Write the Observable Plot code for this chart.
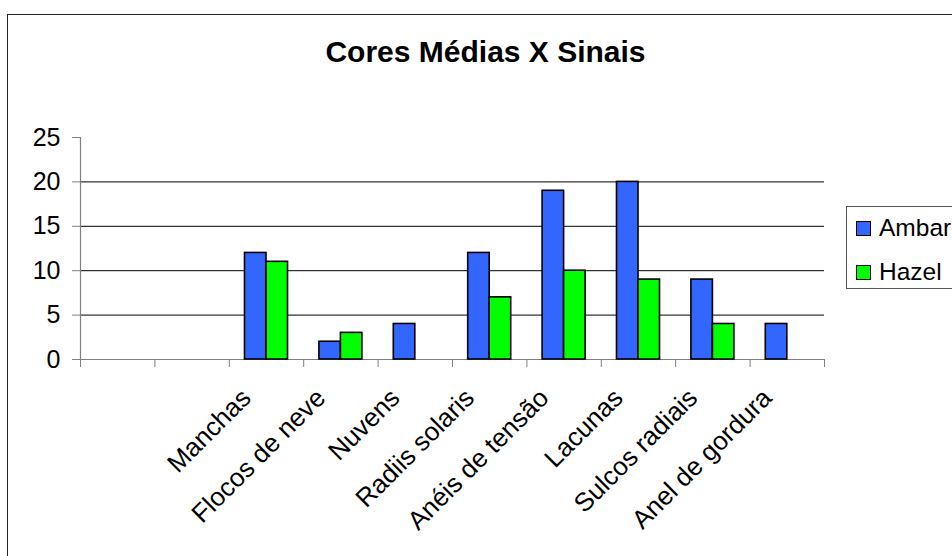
<!DOCTYPE html>
<html>
<head>
<meta charset="utf-8">
<script src="https://cdn.jsdelivr.net/npm/d3@7"></script>
<script src="https://cdn.jsdelivr.net/npm/@observablehq/plot@0.6"></script>
<style>
  body { margin: 0; background: #fff; }
  #chart { position: relative; width: 952px; height: 556px; overflow: hidden;
           font-family: "Liberation Sans", Arial, sans-serif; color: #000; }
  #frame { position: absolute; left: 7px; top: 14px; width: 1000px; height: 600px;
           border: 1.5px solid #222; box-sizing: border-box; pointer-events: none; }
  #title { position: absolute; left: 0; width: 971px; top: 37px; text-align: center;
           font-weight: bold; font-size: 30px; line-height: 30px; white-space: nowrap; }
  #plot { position: absolute; left: 0; top: 0; }
  #legend { position: absolute; left: 846px; top: 206px; width: 130px; height: 83px;
            border: 1px solid #555; box-sizing: border-box; }
  .item { position: absolute; left: 0; }
  .swatch { position: absolute; left: 9px; width: 15px; height: 15px;
            border: 1.5px solid #000; box-sizing: border-box; }
  .label { position: absolute; left: 32px; font-size: 24.5px; line-height: 26px; white-space: nowrap; }
</style>
</head>
<body>
<div id="chart">
  <div id="plot"></div>
  <div id="frame"></div>
  <div id="title">Cores Médias X Sinais</div>
  <div id="legend"></div>
</div>
<script>
// Category slots along the x axis (the first two slots hold no data)
const categories = ["", "", "Manchas", "Flocos de neve", "Nuvens", "Radiis solaris",
                    "Anéis de tensão", "Lacunas", "Sulcos radiais", "Anel de gordura"];
const series = ["Ambar", "Hazel"];
const ambar = [null, null, 12, 2, 4, 12, 19, 20, 9, 4];
const hazel = [null, null, 11, 3, null, 7, 10, 9, 4, null];
const colors = ["#3366ff", "#00ff00"];
const yTicks = [0, 5, 10, 15, 20, 25];

const values = [ambar, hazel];
const rows = categories.flatMap((category, i) =>
  series.map((s, j) => ({i, j, category, series: s, value: values[j][i]}))
).filter(d => d.value != null);

// Excel-style clustered columns: gap between clusters as a fraction of one column width
const gapWidth = 1.46;
const barFrac = 1 / (series.length + gapWidth);

const font = "Liberation Sans, Arial, sans-serif";

const chart = Plot.plot({
  width: 952,
  height: 556,
  marginLeft: 80,
  marginRight: 128,
  marginTop: 137,
  marginBottom: 197,
  style: {fontFamily: font, fontSize: "25px", background: "transparent", overflow: "visible"},
  x: {type: "linear", domain: [0, categories.length], label: null},
  y: {domain: [0, 25], label: null},
  color: {domain: series, range: colors},
  marks: [
    Plot.ruleY([5, 10, 15, 20], {stroke: "#000", strokeWidth: 1}),
    Plot.ruleY([0], {stroke: "#808080", strokeWidth: 1.2}),
    Plot.ruleX([0], {stroke: "#808080", strokeWidth: 1.2}),
    Plot.rectY(rows, {
      x1: d => d.i + (gapWidth / 2 + d.j) * barFrac,
      x2: d => d.i + (gapWidth / 2 + d.j + 1) * barFrac,
      y: "value",
      fill: "series",
      stroke: "#000",
      strokeWidth: 1.6
    }),
    Plot.axisY({ticks: yTicks, tickSize: 8, tickPadding: 12, stroke: "#808080",
                fill: "#000", fontSize: 25, label: null}),
    Plot.axisX({ticks: d3.range(0, categories.length + 1), tickSize: 8,
                tickFormat: () => "", stroke: "#808080", label: null}),
    Plot.text(categories.map((name, i) => ({name, i})).filter(d => d.name), {
      x: d => d.i + 0.5,
      text: "name",
      frameAnchor: "bottom",
      rotate: -45,
      textAnchor: "end",
      fontSize: 26,
      fill: "#000",
      dx: -14,
      dy: 40
    })
  ]
});
document.getElementById("plot").appendChild(chart);

// Legend box on the right
const legend = document.getElementById("legend");
const itemTops = [14, 58];
series.forEach((s, k) => {
  const item = document.createElement("div");
  item.className = "item";
  item.style.top = itemTops[k] + "px";
  const sw = document.createElement("div");
  sw.className = "swatch";
  sw.style.background = colors[k];
  sw.style.top = "0px";
  const lb = document.createElement("div");
  lb.className = "label";
  lb.style.top = "-6px";
  lb.textContent = s;
  item.appendChild(sw);
  item.appendChild(lb);
  legend.appendChild(item);
});
</script>
</body>
</html>
